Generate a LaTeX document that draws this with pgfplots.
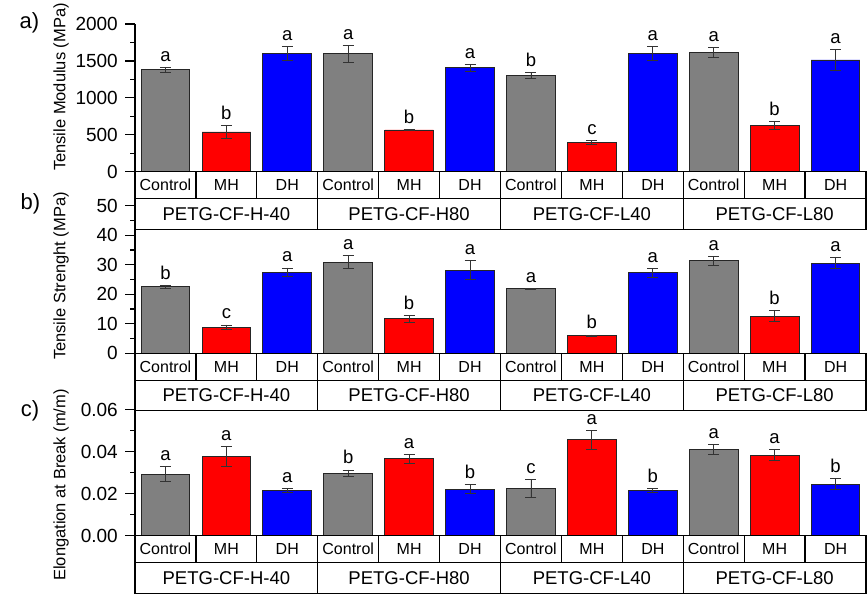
\documentclass[border=0pt]{standalone}
\usepackage{fontspec}
\setmainfont{Liberation Sans}
\usepackage{pgfplots}
\usepackage{pgfplotstable}
\pgfplotsset{compat=1.18}
\definecolor{cgray}{RGB}{128,128,128}
\definecolor{cred}{RGB}{255,0,0}
\definecolor{cblue}{RGB}{0,0,255}

\pgfplotstableread{
x v e l
0 1378 30 a
1 538 90 b
2 1604 95 a
3 1595 110 a
4 565 10 b
5 1405 43 a
6 1306 40 b
7 393 30 c
8 1604 95 a
9 1618 68 a
10 629 52 b
11 1513 145 a
}\tabA
\pgfplotstableread{
x v e l
0 22.5 0.4 b
1 8.9 0.7 c
2 27.4 1.5 a
3 30.9 2.1 a
4 11.7 1.1 b
5 28.2 3.2 a
6 21.8 0.3 a
7 6.0 0.2 b
8 27.3 1.5 a
9 31.3 1.5 a
10 12.6 1.8 b
11 30.5 1.9 a
}\tabB
\pgfplotstableread{
x v e l
0 0.0292 0.0036 a
1 0.0378 0.0049 a
2 0.0214 0.0010 a
3 0.0297 0.0016 b
4 0.0367 0.0021 a
5 0.0222 0.0022 b
6 0.0224 0.0042 c
7 0.0456 0.0045 a
8 0.0214 0.0010 b
9 0.0410 0.0024 a
10 0.0383 0.0026 a
11 0.0246 0.0025 b
}\tabC

\pgfplotsset{
  panel/.style={scale only axis, width=731pt, xmin=-0.5, xmax=11.5, ymin=0,
    anchor=south west, clip=false,
    axis x line=none, axis y line=left, y axis line style={-, line width=1.3pt},
    xtick=\empty, ytick align=outside, ytick pos=left,
    major tick length=10pt, minor tick length=5pt, minor y tick num=1,
    every tick/.style={black, line width=1.2pt},
    /pgf/number format/assume math mode=true, /pgf/number format/1000 sep={},
    scaled y ticks=false,
    yticklabel style={font=\fontsize{19}{19}\selectfont, inner sep=2pt, xshift=-5pt},
  },
  barp/.style 2 args={ybar, bar shift=0pt, bar width=0.8, fill=#1, draw=black!85, line width=0.9pt,
    restrict expr to domain={mod(\thisrow{x},3)}{#2:#2},
    /pgfplots/error bars/y dir=both, /pgfplots/error bars/y explicit,
    /pgfplots/error bars/error bar style={line width=0.9pt, black!80},
    /pgfplots/error bars/error mark options={rotate=90, mark size=5.5pt, line width=0.9pt, black!80}},
  letp/.style={only marks, mark=*, mark size=0pt,
    scatter/use mapped color={draw=none, fill=none},
    nodes near coords, point meta=explicit symbolic,
    nodes near coords style={anchor=base, inner sep=0pt, yshift=6pt, font=\fontsize{18.5}{18.5}\selectfont, black}},
}

\newcommand{\labelrows}[1]{%
  \foreach \g in {0,1,2,3} {
    \foreach \c/\t in {0/Control,1/MH,2/DH} {
      \pgfmathsetmacro\xl{135+(3*\g+\c)*60.917}
      \draw[line width=1.3pt, fill=white] (\xl pt,#1pt) rectangle ++(60.917pt,-27pt);
      \node[font=\fontsize{16}{16}\selectfont, inner sep=0pt] at (\xl pt+30.46pt,#1pt-13.5pt) {\t};
    }
  }
  \foreach \g/\t in {0/PETG-CF-H-40,1/PETG-CF-H80,2/PETG-CF-L40,3/PETG-CF-L80} {
    \pgfmathsetmacro\xl{135+\g*182.75}
    \draw[line width=1.3pt, fill=white] (\xl pt,#1pt-27pt) rectangle ++(182.75pt,-30.5pt);
    \node[font=\fontsize{18.5}{18.5}\selectfont, inner sep=0pt] at (\xl pt+91.375pt,#1pt-42.25pt) {\t};
  }
}

\begin{document}
\begin{tikzpicture}
\useasboundingbox (0,0) rectangle (867pt,595pt);
% panel a
\begin{axis}[panel, at={(135pt,423.3pt)}, height=147.7pt, ymax=2000, ytick={0,500,1000,1500,2000}]
\addplot[barp={cgray}{0}] table[x=x, y=v, y error=e] {\tabA};
\addplot[barp={cred}{1}] table[x=x, y=v, y error=e] {\tabA};
\addplot[barp={cblue}{2}] table[x=x, y=v, y error=e] {\tabA};
\addplot[letp] table[x=x, y expr=\thisrow{v}+\thisrow{e}, meta=l] {\tabA};
\end{axis}
% panel b
\begin{axis}[panel, at={(135pt,241.7pt)}, height=147.6pt, ymax=50, ytick={0,10,20,30,40,50}]
\addplot[barp={cgray}{0}] table[x=x, y=v, y error=e] {\tabB};
\addplot[barp={cred}{1}] table[x=x, y=v, y error=e] {\tabB};
\addplot[barp={cblue}{2}] table[x=x, y=v, y error=e] {\tabB};
\addplot[letp] table[x=x, y expr=\thisrow{v}+\thisrow{e}, meta=l] {\tabB};
\end{axis}
% panel c
\begin{axis}[panel, at={(135pt,59.3pt)}, height=126pt, ymax=0.06, ytick={0,0.02,0.04,0.06},
  yticklabel style={/pgf/number format/.cd, fixed, fixed zerofill, precision=2}]
\addplot[barp={cgray}{0}] table[x=x, y=v, y error=e] {\tabC};
\addplot[barp={cred}{1}] table[x=x, y=v, y error=e] {\tabC};
\addplot[barp={cblue}{2}] table[x=x, y=v, y error=e] {\tabC};
\addplot[letp] table[x=x, y expr=\thisrow{v}+\thisrow{e}, meta=l] {\tabC};
\end{axis}
\labelrows{423.3}
\labelrows{241.7}
\labelrows{59.3}
\node[font=\fontsize{16.5}{16.5}\selectfont, rotate=90] at (61pt,508pt) {Tensile Modulus (MPa)};
\node[font=\fontsize{16.5}{16.5}\selectfont, rotate=90] at (61pt,319pt) {Tensile Strenght (MPa)};
\node[font=\fontsize{16.5}{16.5}\selectfont, rotate=90] at (61pt,110pt) {Elongation at Break (m/m)};
\node[font=\fontsize{22}{22}\selectfont] at (29.5pt,572pt) {a)};
\node[font=\fontsize{22}{22}\selectfont] at (30.5pt,391pt) {b)};
\node[font=\fontsize{22}{22}\selectfont] at (30pt,184pt) {c)};
\end{tikzpicture}
\end{document}
